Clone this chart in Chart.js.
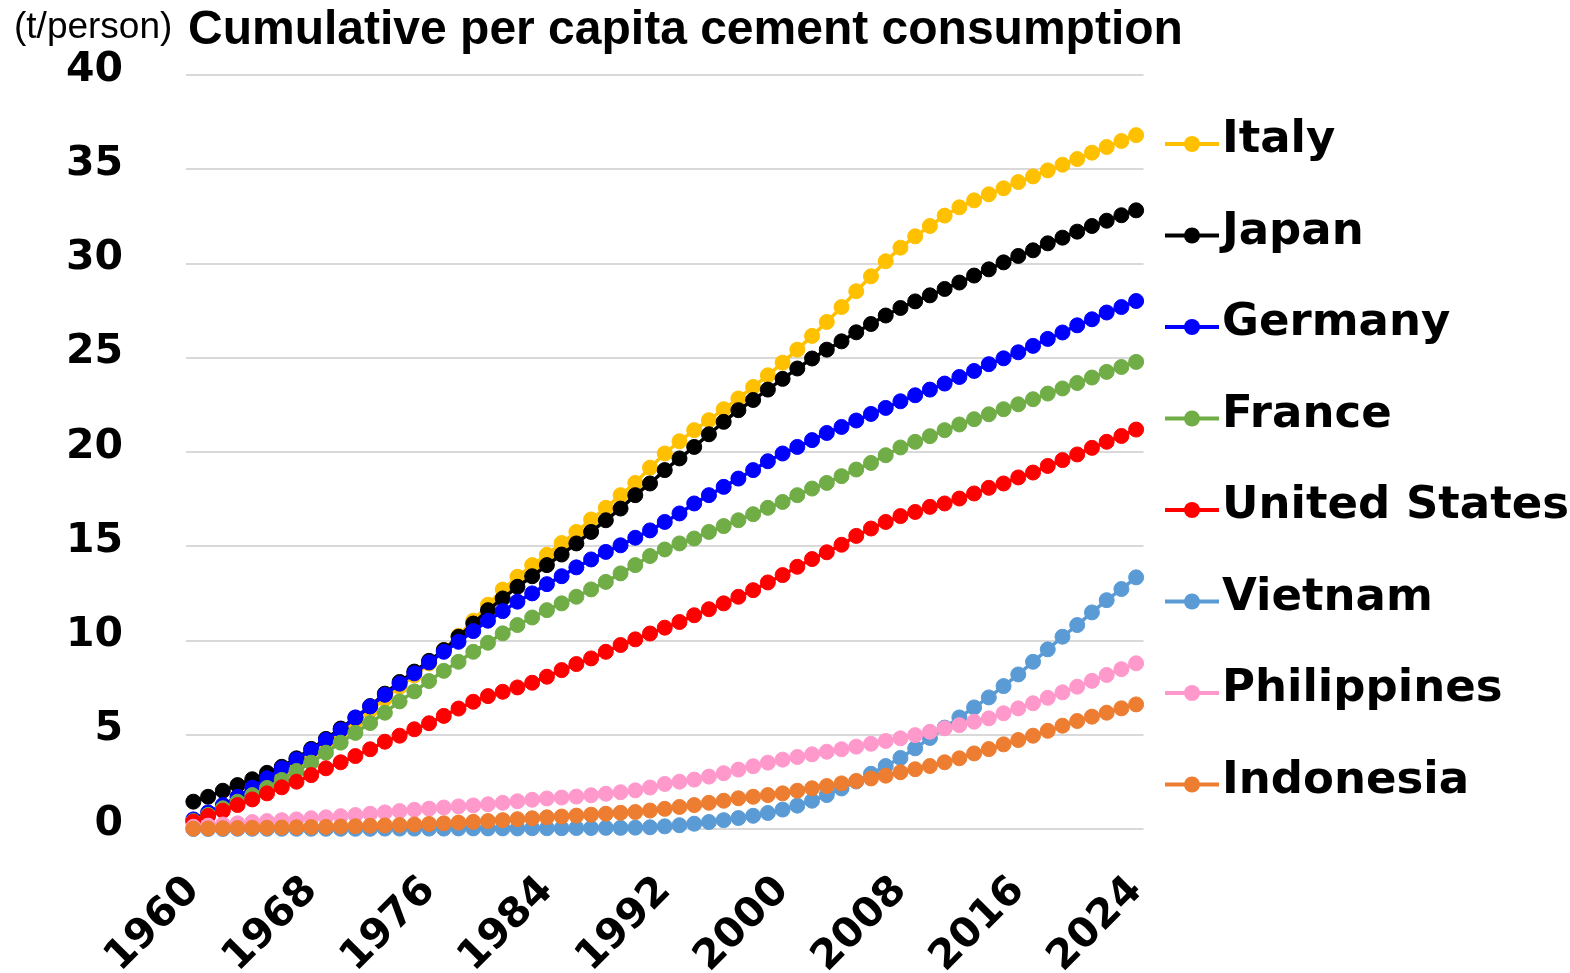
<!DOCTYPE html>
<html>
<head>
<meta charset="utf-8">
<script src="https://cdn.jsdelivr.net/npm/chart.js@4.4.1/dist/chart.umd.min.js"></script>
<style>
  html, body { margin: 0; padding: 0; background: #fff; }
</style>
</head>
<body>
<canvas id="cementChart" width="1570" height="973"></canvas>
<script>
const years = [
  '1960','1961','1962','1963','1964','1965','1966','1967','1968','1969',
  '1970','1971','1972','1973','1974','1975','1976','1977','1978','1979',
  '1980','1981','1982','1983','1984','1985','1986','1987','1988','1989',
  '1990','1991','1992','1993','1994','1995','1996','1997','1998','1999',
  '2000','2001','2002','2003','2004','2005','2006','2007','2008','2009',
  '2010','2011','2012','2013','2014','2015','2016','2017','2018','2019',
  '2020','2021','2022','2023','2024'
];
const xTickYears = ['1960','1968','1976','1984','1992','2000','2008','2016','2024'];

const countries = ['Italy','Japan','Germany','France','United States','Vietnam','Philippines','Indonesia'];
const colors = ['#FFC000','#000000','#0000FF','#70AD47','#FF0000','#5B9BD5','#FF99CC','#ED7D31'];

// cumulative t/person, 1960-2024
const italy = [
  0.45,0.82,1.22,1.65,2.08,2.52,2.98,3.45,3.97,4.50,
  5.08,5.68,6.28,6.90,7.55,8.15,8.78,9.50,10.25,11.05,
  11.90,12.70,13.38,14.00,14.55,15.17,15.76,16.42,17.04,17.71,
  18.36,19.17,19.92,20.57,21.16,21.69,22.27,22.84,23.45,24.07,
  24.74,25.43,26.16,26.90,27.69,28.53,29.32,30.12,30.84,31.44,
  31.99,32.54,32.98,33.35,33.67,33.99,34.32,34.62,34.94,35.24,
  35.54,35.88,36.18,36.50,36.81
];
const japan = [
  1.45,1.71,2.03,2.33,2.64,2.98,3.30,3.75,4.25,4.78,
  5.33,5.90,6.52,7.18,7.80,8.35,8.92,9.49,10.20,10.90,
  11.61,12.23,12.85,13.41,14.00,14.56,15.15,15.76,16.38,17.00,
  17.71,18.33,19.04,19.66,20.27,20.94,21.60,22.22,22.76,23.31,
  23.88,24.43,24.96,25.43,25.87,26.35,26.79,27.24,27.64,27.99,
  28.31,28.65,28.99,29.36,29.69,30.06,30.40,30.70,31.07,31.37,
  31.69,31.99,32.27,32.56,32.82
];
const germany = [
  0.51,0.88,1.27,1.71,2.19,2.69,3.22,3.69,4.19,4.72,
  5.26,5.92,6.50,7.12,7.71,8.26,8.84,9.40,9.93,10.50,
  11.05,11.56,12.06,12.50,12.99,13.41,13.88,14.30,14.70,15.05,
  15.45,15.84,16.29,16.74,17.27,17.71,18.15,18.59,19.04,19.51,
  19.92,20.27,20.63,21.01,21.33,21.67,22.02,22.34,22.69,23.01,
  23.31,23.63,23.98,24.30,24.66,24.97,25.29,25.63,26.00,26.34,
  26.72,27.04,27.40,27.69,28.01
];
const france = [
  0.42,0.75,1.10,1.45,1.80,2.18,2.60,3.08,3.52,4.05,
  4.58,5.10,5.62,6.17,6.77,7.30,7.85,8.39,8.87,9.40,
  9.88,10.38,10.82,11.22,11.61,11.97,12.32,12.71,13.11,13.56,
  14.00,14.48,14.83,15.15,15.41,15.76,16.07,16.38,16.70,17.04,
  17.35,17.71,18.06,18.36,18.72,19.07,19.42,19.83,20.24,20.54,
  20.84,21.16,21.46,21.74,22.00,22.27,22.53,22.80,23.10,23.37,
  23.66,23.95,24.25,24.51,24.78
];
const unitedStates = [
  0.39,0.69,0.97,1.27,1.57,1.89,2.21,2.51,2.86,3.22,
  3.54,3.87,4.23,4.63,4.95,5.29,5.61,6.00,6.39,6.75,
  7.05,7.28,7.51,7.76,8.08,8.43,8.75,9.05,9.40,9.76,
  10.06,10.37,10.68,10.98,11.34,11.66,11.97,12.32,12.67,13.08,
  13.47,13.91,14.32,14.68,15.08,15.55,15.94,16.29,16.60,16.82,
  17.09,17.27,17.53,17.80,18.10,18.33,18.65,18.91,19.26,19.57,
  19.87,20.22,20.54,20.85,21.19
];
const vietnam = [
  0.00,0.00,0.00,0.01,0.01,0.01,0.01,0.01,0.01,0.01,
  0.01,0.01,0.01,0.02,0.02,0.02,0.02,0.02,0.03,0.03,
  0.03,0.03,0.03,0.04,0.04,0.04,0.05,0.05,0.06,0.06,
  0.07,0.09,0.14,0.20,0.28,0.37,0.47,0.58,0.70,0.85,
  1.03,1.24,1.50,1.80,2.15,2.52,2.93,3.34,3.77,4.28,
  4.83,5.38,5.92,6.45,6.98,7.58,8.20,8.87,9.53,10.20,
  10.82,11.49,12.14,12.73,13.35
];
const philippines = [
  0.12,0.18,0.24,0.30,0.37,0.42,0.47,0.51,0.57,0.62,
  0.68,0.74,0.81,0.88,0.95,1.02,1.08,1.14,1.20,1.25,
  1.31,1.39,1.47,1.55,1.62,1.67,1.72,1.79,1.87,1.95,
  2.05,2.20,2.39,2.51,2.62,2.78,2.96,3.15,3.33,3.52,
  3.68,3.82,3.96,4.10,4.23,4.37,4.52,4.67,4.81,4.98,
  5.16,5.34,5.51,5.69,5.87,6.14,6.40,6.67,6.96,7.25,
  7.55,7.86,8.17,8.48,8.79
];
const indonesia = [
  0.02,0.03,0.04,0.05,0.06,0.07,0.08,0.09,0.10,0.11,
  0.13,0.15,0.17,0.19,0.21,0.24,0.27,0.30,0.34,0.38,
  0.42,0.47,0.52,0.57,0.62,0.66,0.71,0.76,0.81,0.86,
  0.90,0.98,1.07,1.17,1.27,1.39,1.50,1.63,1.71,1.80,
  1.89,2.03,2.16,2.28,2.42,2.55,2.68,2.83,3.01,3.17,
  3.34,3.54,3.75,4.01,4.24,4.49,4.72,4.95,5.21,5.48,
  5.73,5.96,6.17,6.40,6.61
];
const seriesData = [italy, japan, germany, france, unitedStates, vietnam, philippines, indonesia];

const tickFont = { family: 'DejaVu Sans', size: 41, weight: 'bold' };

// title, unit and the legend on the right
const textPlugin = {
  id: 'textPlugin',
  afterDraw(chart) {
    const ctx = chart.ctx;
    ctx.save();
    ctx.fillStyle = '#000';
    ctx.textBaseline = 'alphabetic';
    ctx.textAlign = 'left';
    ctx.font = '37px "Liberation Sans"';
    ctx.fillText('(t/person)', 14, 38);
    ctx.font = 'bold 48px "Liberation Sans"';
    ctx.fillText('Cumulative per capita cement consumption', 188, 44);

    ctx.font = 'bold 45px "DejaVu Sans"';
    countries.forEach((name, i) => {
      const y = 144 + 91.5 * i;
      ctx.strokeStyle = colors[i];
      ctx.lineWidth = 4;
      ctx.beginPath();
      ctx.moveTo(1165, y);
      ctx.lineTo(1219, y);
      ctx.stroke();
      ctx.fillStyle = colors[i];
      ctx.beginPath();
      ctx.arc(1192, y, 8, 0, Math.PI * 2);
      ctx.fill();
      ctx.fillStyle = '#000';
      ctx.fillText(name, 1222, y + 8);
    });
    ctx.restore();
  }
};

const ctx = document.getElementById('cementChart').getContext('2d');
const cementChart = new Chart(ctx, {
  type: 'line',
  data: {
    labels: years,
    datasets: countries.map((name, i) => ({
      label: name,
      data: seriesData[i],
      borderColor: colors[i],
      backgroundColor: colors[i],
      pointBackgroundColor: colors[i],
      pointBorderColor: colors[i],
      borderWidth: 3.5,
      pointRadius: 7.5,
      pointBorderWidth: 1,
      tension: 0,
      clip: false,
      order: countries.length - 1 - i // later series on top, like the original
    }))
  },
  options: {
    responsive: false,
    animation: false,
    events: [],
    layout: { padding: { top: 75, left: 0, right: 426.5, bottom: 0 } },
    plugins: {
      legend: { display: false },
      tooltip: { enabled: false },
      title: { display: false }
    },
    scales: {
      x: {
        offset: true,
        grid: { display: false },
        border: { display: false },
        ticks: {
          autoSkip: false,
          minRotation: 45,
          maxRotation: 45,
          padding: 30,
          color: '#000',
          font: tickFont,
          callback: function(value) {
            const lab = this.getLabelForValue(value);
            return xTickYears.includes(lab) ? lab : '';
          }
        },
        afterFit: scale => { scale.height = 144; }
      },
      y: {
        min: 0,
        max: 40,
        grid: { color: '#D9D9D9', lineWidth: 2, drawTicks: false },
        border: { display: false },
        ticks: {
          stepSize: 5,
          padding: 63,
          labelOffset: -5,
          color: '#000',
          font: tickFont
        },
        afterFit: scale => {
          scale.width = 186;
          // the big tick padding should not push the plot down
          scale.paddingTop = 10;
          scale.paddingBottom = 10;
        }
      }
    }
  },
  plugins: [textPlugin]
});
</script>
</body>
</html>
